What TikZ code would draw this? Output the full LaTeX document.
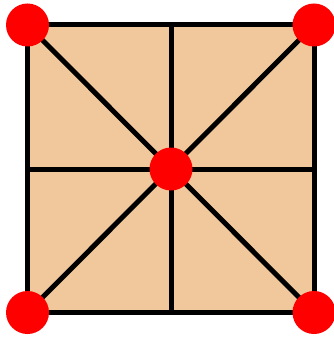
\documentclass[tikz,border=0pt]{standalone}
\usepackage{xcolor}
\usepackage{tikz}
\definecolor{tan}{HTML}{F0C89C}
\definecolor{dotred}{HTML}{FF0000}

\begin{document}
\begin{tikzpicture}[x=1pt,y=-1pt,
        edge/.style={draw=black,line width=5pt},
        dot/.style={circle,fill=dotred,minimum size=43pt,inner sep=0pt}]
        \useasboundingbox (0,0) rectangle (333,339);
        \coordinate (tl) at (27.5,25);
        \coordinate (tr) at (314,25);
        \coordinate (bl) at (27.5,312.5);
        \coordinate (br) at (314,312.5);
        \coordinate (c) at (171,169);
        \coordinate (tm) at (171,25);
        \coordinate (bm) at (171,312.5);
        \coordinate (lm) at (27.5,169);
        \coordinate (rm) at (314,169);
        \fill[tan] (tl) rectangle (br);
        \draw[edge] (tl)--(br);
        \draw[edge] (tr)--(bl);
        \draw[edge] (tm)--(bm);
        \draw[edge] (lm)--(rm);
        \draw[edge] (tl) rectangle (br);
        \node[dot] (ntl) at (tl) {};
        \node[dot] (ntr) at (tr) {};
        \node[dot] (nbl) at (bl) {};
        \node[dot] (nbr) at (br) {};
        \node[dot] (nc) at (c) {};
      \end{tikzpicture}
\end{document}
